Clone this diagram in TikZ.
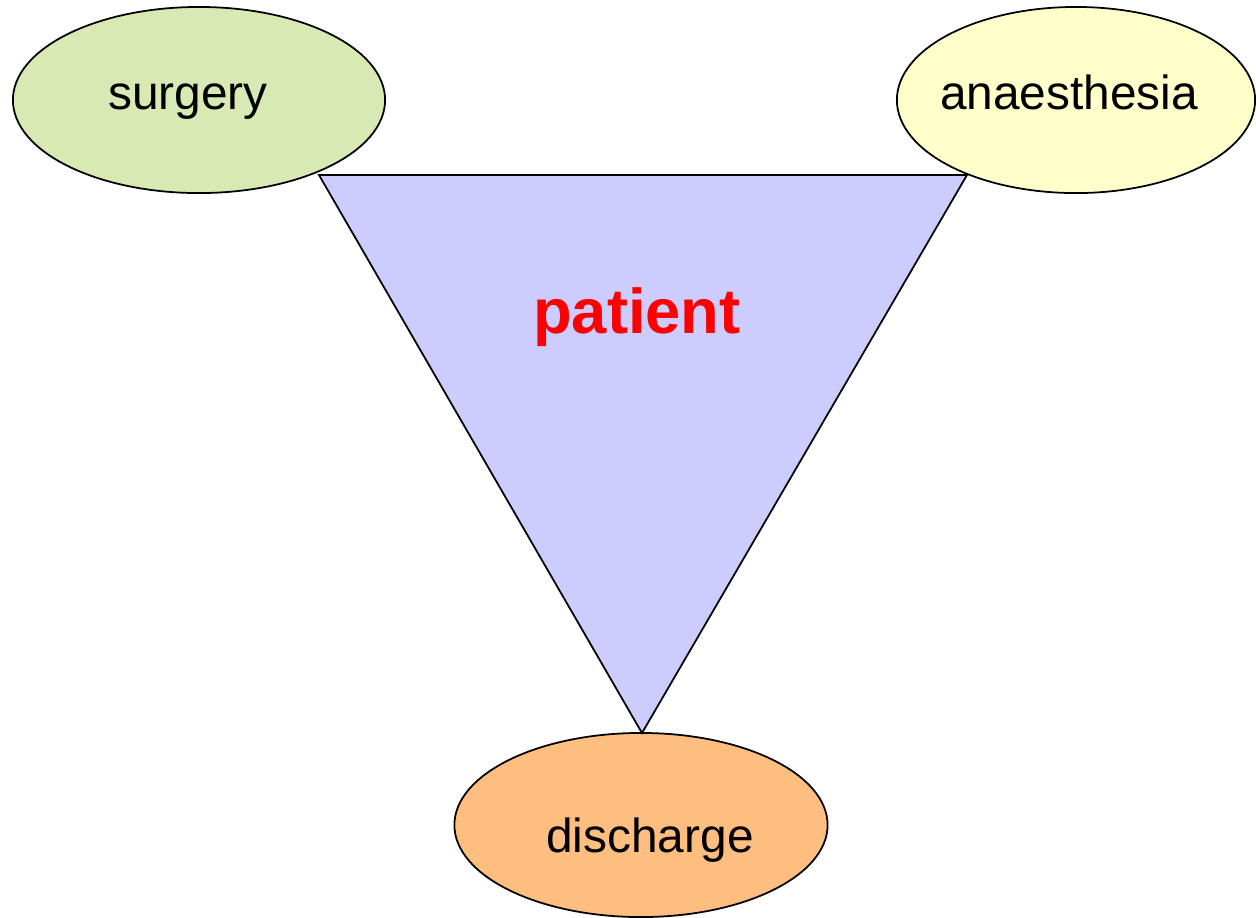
\documentclass[tikz,border=0pt]{standalone}
\usepackage{fontspec}
\setmainfont{Liberation Sans}
\usepackage{xcolor}
\usetikzlibrary{shapes.geometric,positioning}
\definecolor{surgeryfill}{HTML}{D8E9B3}
\definecolor{anaesfill}{HTML}{FFFFCC}
\definecolor{dischfill}{HTML}{FDBE80}
\definecolor{patientfill}{HTML}{CCCCFF}

\begin{document}
\begin{tikzpicture}[x=0.01cm,y=-0.01cm,line width=0.5pt,
 stage/.style={draw=black,ellipse,inner ysep=0pt,inner xsep=-8pt,text height=10pt,text depth=4.4pt,font=\fontsize{13.6}{16}\selectfont},
 core/.style={draw=black,fill=patientfill,line join=miter}]
\useasboundingbox (0,0) rectangle (1256,917);
\node[stage,fill=surgeryfill,minimum width=3.72cm,minimum height=1.86cm] (surgery) at (199,100) {surgery\kern0.22cm};
\node[stage,fill=anaesfill,minimum width=3.58cm,minimum height=1.86cm] (anaesthesia) at (1076,100) {anaesthesia\kern0.14cm};
\node[stage,fill=dischfill,minimum width=3.73cm,minimum height=1.84cm,text height=18pt,text depth=2.2pt] (discharge) at (641,825) {\kern0.18cm discharge};
% the patient triangle sits on top of the three ellipses
\coordinate (tl) at (319,175);
\coordinate (tr) at (967,175);
\coordinate (tb) at (642,733);
\draw[core] (tl) -- (tr) -- (tb) -- cycle;
\node[text=red,font=\fontsize{18}{21}\selectfont\bfseries] (patient) at (637,317) {patient};
\end{tikzpicture}
\end{document}
